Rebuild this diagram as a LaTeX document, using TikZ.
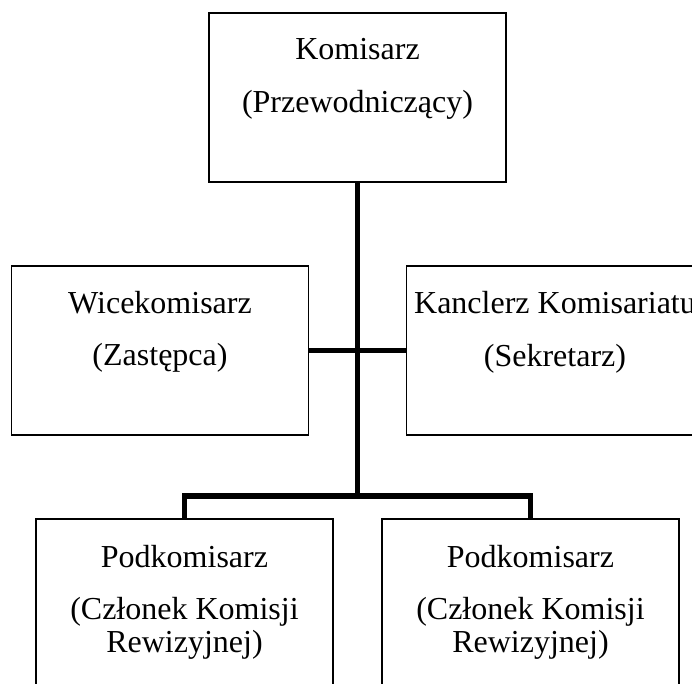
\documentclass[tikz,border=0pt]{standalone}
\usepackage{fontspec}
\setmainfont{Liberation Serif}
\usetikzlibrary{positioning}

\tikzset{
  postbox/.style={ draw, line width=0.9pt, minimum width=148.5pt, minimum height=84.5pt, inner sep=0pt }
}
\tikzset{
  posttext/.style={ align=center, inner sep=0pt, anchor=north, font=\fontsize{16}{16.5}\selectfont }
}
\tikzset{
  link/.style={ line width=2.7pt, line join=miter }
}

\begin{document}
\begin{tikzpicture}[x=0.5pt, y=-0.5pt]
      \useasboundingbox (0,0) rectangle (692,684);
      \clip (0,0) rectangle (692,684);

      \node[postbox] (kom) at (357.5, 97.5) {};
      \node[posttext] (komtxt) at (357.5, 38) {Komisarz\\[10pt](Przewodniczący)};

      \node[postbox] (wice) at (160, 350.5) {};
      \node[posttext] (wicetxt) at (160, 291) {Wicekomisarz\\[9.5pt](Zastępca)};

      \node[postbox] (kanc) at (555, 350.5) {};
      \node[posttext] (kanctxt) at (555, 290.5) {Kanclerz Komisariatu\\[10pt](Sekretarz)};

      \node[postbox] (pod1) at (184.5, 603.5) {};
      \node[posttext] (pod1txt) at (184.5, 545) {Podkomisarz\\[9.5pt](Członek Komisji\\Rewizyjnej)};

      \node[postbox] (pod2) at (530.5, 603.5) {};
      \node[posttext] (pod2txt) at (530.5, 545) {Podkomisarz\\[9.5pt](Członek Komisji\\Rewizyjnej)};

      \coordinate (split) at (357.5, 496);
      \draw[link] (kom) -- (split);
      \draw[link] (wice) -- (kanc);
      \draw[link] (pod1) |- (split) -| (pod2);
\end{tikzpicture}
\end{document}
